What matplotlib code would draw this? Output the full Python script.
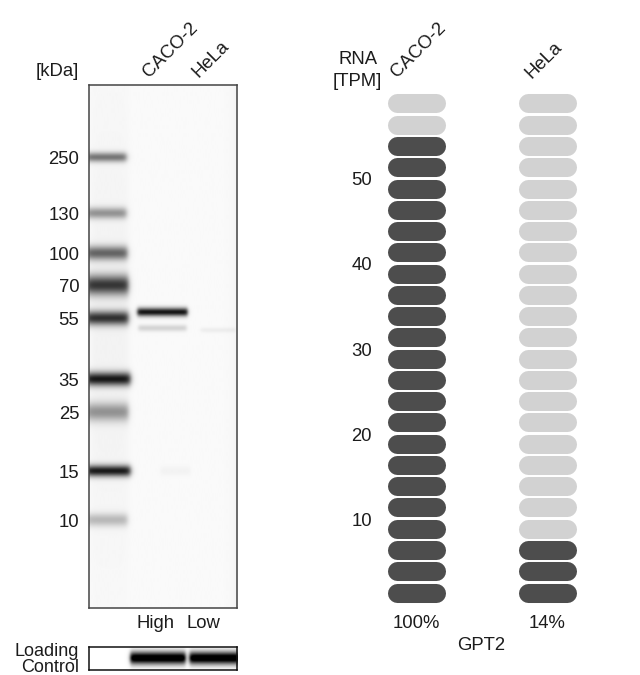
import matplotlib
matplotlib.use('Agg')
import matplotlib.pyplot as plt
import numpy as np

plt.rcParams['font.family'] = ['Liberation Sans', 'DejaVu Sans']

W, H = 640, 675
text_color = '#1c1c1c'
font_size = 13.3

# Western blot, positions read in picture pixels
kda_labels = ['250', '130', '100', '70', '55', '35', '25', '15', '10']
kda_y = [157, 213, 253, 285, 318, 379, 412, 471, 520]
marker_strength = [0.50, 0.38, 0.56, 0.74, 0.76, 0.86, 0.38, 0.86, 0.24]
marker_sigma = [3.4, 4.0, 5.0, 7.0, 5.0, 4.8, 6.5, 4.0, 4.6]
marker_end = [126, 126, 127, 128, 128, 130, 128, 130, 127]

sample_y = [312, 328, 330, 471]
sample_x0 = [137, 138, 200, 160]
sample_x1 = [187, 186, 235, 190]
sample_strength = [0.90, 0.15, 0.05, 0.03]
sample_sigma = [3.0, 2.4, 1.8, 3.5]

loading_x0 = [130, 189]
loading_x1 = [185, 239]
loading_y = [658, 658]
loading_strength = [1.0, 1.0]
loading_sigma = [4.5, 4.5]

lane_labels = ['High', 'Low']
lane_x = [156, 203]

# RNA panel
cell_lines = ['CACO-2', 'HeLa']
percent_labels = ['100%', '14%']
tpm_ticks = [10, 20, 30, 40, 50]
pill_levels = [1.52, 4.01, 6.49, 8.98, 11.47, 13.96, 16.44, 18.93, 21.42, 23.90, 26.39, 28.88,
               31.36, 33.85, 36.34, 38.83, 41.31, 43.80, 46.29, 48.77, 51.26, 53.75, 56.24, 58.72]
caco_filled = 22
hela_filled = 3


def axes_px(x0, y0, x1, y1):
    return fig.add_axes([x0 / W, 1 - y1 / H, (x1 - x0) / W, (y1 - y0) / H])


def label(x, y, s, **kw):
    kw.setdefault('fontsize', font_size)
    kw.setdefault('color', text_color)
    kw.setdefault('va', 'center')
    return fig.text(x / W, 1 - y / H, s, **kw)


def band(xx, yy, y, sigma, x0, x1, soft=3.0):
    across = np.exp(-0.5 * ((yy - y) / sigma) ** 2)
    along = 0.5 * (np.tanh((xx - x0) / soft) - np.tanh((xx - x1) / soft))
    return across * along


fig = plt.figure(figsize=(W / 100, H / 100), dpi=100)

# main blot
xx, yy = np.meshgrid(np.arange(89, 237.5, 0.5), np.arange(85, 608.5, 0.5))
dark = np.full(xx.shape, 0.02)
dark += 0.03 * np.exp(-(237 - xx) / 6.0)
dark += 0.03 * band(xx, yy, 330, 170, 91, 128, 4)
for y, st, sg, x1 in zip(kda_y, marker_strength, marker_sigma, marker_end):
    dark += st * band(xx, yy, y, sg, 86, x1)
for y, x0, x1, st, sg in zip(sample_y, sample_x0, sample_x1, sample_strength, sample_sigma):
    dark += st * band(xx, yy, y, sg, x0, x1, 2.0)

ax = axes_px(89, 85, 237, 608)
ax.imshow(1 - np.clip(dark, 0, 1), cmap='gray', vmin=0, vmax=1, aspect='auto',
          extent=[89, 237, 608, 85], interpolation='bilinear')
ax.set_xticks([])
ax.set_yticks(kda_y)
ax.set_yticklabels(kda_labels, fontsize=font_size, color=text_color)
ax.tick_params(axis='y', length=0, pad=7)
for s in ax.spines.values():
    s.set_color('#444444')
    s.set_linewidth(1.1)

# loading control
xx, yy = np.meshgrid(np.arange(89, 237.5, 0.5), np.arange(647, 670.5, 0.5))
dark = np.zeros(xx.shape)
for y, x0, x1, st, sg in zip(loading_y, loading_x0, loading_x1, loading_strength, loading_sigma):
    dark += st * band(xx, yy, y, sg, x0, x1, 2.0)
ax2 = axes_px(89, 647, 237, 670)
ax2.imshow(1 - np.clip(dark * 1.15, 0, 1), cmap='gray', vmin=0, vmax=1, aspect='auto',
           extent=[89, 237, 670, 647], interpolation='bilinear')
ax2.set_xticks([])
ax2.set_yticks([])
for s in ax2.spines.values():
    s.set_color('#111111')
    s.set_linewidth(1.1)

# RNA pills, x in lane units, y in TPM
ax3 = axes_px(340, 85, 600, 608)
ax3.patch.set_alpha(0)
ax3.set_xlim((340 - 416) / 131, (600 - 416) / 131)
ax3.set_ylim(10 + (520 - 608) / 8.55, 10 + (520 - 85) / 8.55)
half = 19.5 / 131
for i, n in enumerate([caco_filled, hela_filled]):
    for k, level in enumerate(pill_levels):
        c = '#4d4d4d' if k < n else '#d2d2d2'
        ax3.plot([i - half, i + half], [level, level], color=c, lw=13.7,
                 solid_capstyle='round', clip_on=False)
ax3.set_xticks([])
ax3.set_yticks(tpm_ticks)
ax3.set_yticklabels([str(t) for t in tpm_ticks], fontsize=font_size, color=text_color)
ax3.tick_params(axis='y', length=0, pad=-23, direction='in')
for lb in ax3.get_yticklabels():
    lb.set_ha('right')
for s in ax3.spines.values():
    s.set_visible(False)

# texts
label(79, 71, '[kDa]', ha='right')
label(152, 81, 'CACO-2', rotation=45, rotation_mode='anchor', ha='left', va='bottom')
label(201, 81, 'HeLa', rotation=45, rotation_mode='anchor', ha='left', va='bottom')
for x, s in zip(lane_x, lane_labels):
    label(x, 624, s, ha='center')
label(79, 651, 'Loading', ha='right', fontsize=13)
label(79, 668, 'Control', ha='right', fontsize=13)
label(358, 60, 'RNA', ha='center')
label(357, 81, '[TPM]', ha='center')
label(400, 81, cell_lines[0], rotation=45, rotation_mode='anchor', ha='left', va='bottom')
label(534, 82, cell_lines[1], rotation=45, rotation_mode='anchor', ha='left', va='bottom')
label(416, 623, percent_labels[0], ha='center')
label(547, 623, percent_labels[1], ha='center')
label(481, 645, 'GPT2', ha='center')

fig.savefig('out.png', dpi=100)
